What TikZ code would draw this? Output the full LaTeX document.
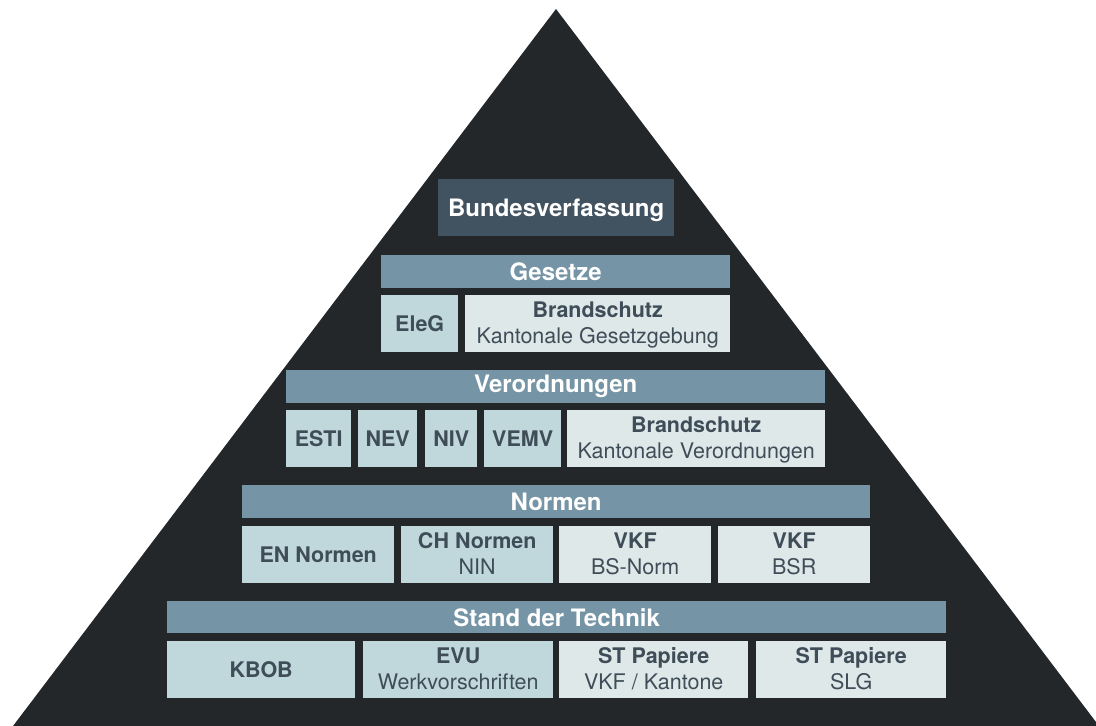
\documentclass[tikz,border=0pt]{standalone}
\usepackage{fontspec}
\setmainfont{TeX Gyre Heros}
\usetikzlibrary{positioning}

\definecolor{pyramid}{HTML}{23272A}
\definecolor{topbox}{HTML}{415260}
\definecolor{barblue}{HTML}{7594A6}
\definecolor{lightblue}{HTML}{C0D8DC}
\definecolor{paleblue}{HTML}{DFE8E8}
\definecolor{textdark}{HTML}{3F4D59}

\tikzset{
  blk/.style={anchor=north west, inner sep=0pt, align=center, text=textdark,
    font=\fontsize{21.5}{26}\selectfont},
  topblk/.style={blk, fill=topbox, text=white, text depth=0pt, font=\fontsize{24}{28}\selectfont\bfseries},
  bar/.style={blk, fill=barblue, text=white, font=\fontsize{24}{28}\selectfont\bfseries},
  lawbox/.style={blk, fill=lightblue, font=\fontsize{21.5}{26}\selectfont\bfseries},
  firebox/.style={blk, fill=paleblue},
  row/.style={minimum height=57pt},
  head/.style={minimum height=33pt},
  twoline/.style={text depth=2pt}
}

\begin{document}
\begin{tikzpicture}[x=1pt,y=-1pt]
\useasboundingbox (0,0) rectangle (1096,726);

% Pyramid background
\fill[pyramid] (13,726) -- (556,9) -- (1099,726) -- cycle;

% Top
\node[topblk, minimum width=236pt, minimum height=57pt] (bv) at (438,179) {Bundesverfassung};

% Gesetze
\node[bar, head, minimum width=349pt] (gesetze) at (381,255) {Gesetze};
\node[lawbox, row, minimum width=77pt] (eleg) at (381,295) {EleG};
\node[firebox, row, twoline, minimum width=265pt] (gbrand) at (465,295) {\textbf{Brandschutz}\\Kantonale Gesetzgebung};

% Verordnungen
\node[bar, head, minimum width=539pt] (verord) at (286,370) {Verordnungen};
\node[lawbox, row, minimum width=65pt] (esti) at (286,410) {ESTI};
\node[lawbox, row, minimum width=59pt] (nev) at (358,410) {NEV};
\node[lawbox, row, minimum width=52pt] (niv) at (425,410) {NIV};
\node[lawbox, row, minimum width=77pt] (vemv) at (484,410) {VEMV};
\node[firebox, row, twoline, minimum width=258pt] (vbrand) at (567,410) {\textbf{Brandschutz}\\Kantonale Verordnungen};

% Normen
\node[bar, head, minimum width=628pt] (normen) at (242,485) {Normen};
\node[lawbox, row, minimum width=152pt] (en) at (242,526) {EN Normen};
\node[lawbox, row, twoline, minimum width=152pt] (ch) at (401,526) {CH Normen\\\mdseries NIN};
\node[firebox, row, twoline, minimum width=152pt] (bsnorm) at (559,526) {\textbf{VKF}\\BS-Norm};
\node[firebox, row, twoline, minimum width=152pt] (bsr) at (718,526) {\textbf{VKF}\\BSR};

% Stand der Technik
\node[bar, head, minimum width=779pt, minimum height=32pt] (sdt) at (167,601) {Stand der Technik};
\node[lawbox, row, minimum width=188pt] (kbob) at (167,641) {KBOB};
\node[lawbox, row, twoline, minimum width=190pt] (evu) at (363,641) {EVU\\\mdseries Werkvorschriften};
\node[firebox, row, twoline, minimum width=189pt] (stvkf) at (559,641) {\textbf{ST Papiere}\\VKF / Kantone};
\node[firebox, row, twoline, minimum width=190pt] (stslg) at (756,641) {\textbf{ST Papiere}\\SLG};
\end{tikzpicture}
\end{document}
